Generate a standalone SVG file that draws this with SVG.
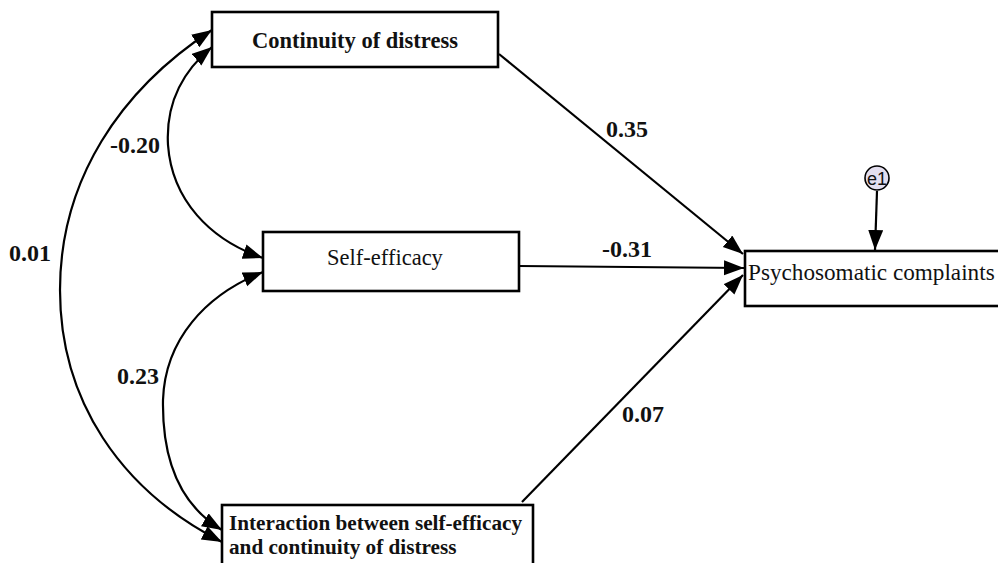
<svg xmlns="http://www.w3.org/2000/svg" width="998" height="563" viewBox="0 0 998 563">
<style>
.box{fill:#fff;stroke:#000;stroke-width:2.6}
.bt{font-family:"Liberation Serif","Times New Roman",serif;font-weight:bold;fill:#111}
.rt{font-family:"Liberation Serif","Times New Roman",serif;fill:#111}
.lbl{font-family:"Liberation Serif","Times New Roman",serif;font-weight:bold;font-size:24px;fill:#111}
.c{fill:none;stroke:#000;stroke-width:2.2}
.a{marker-end:url(#ah)}
.d{marker-start:url(#ah);marker-end:url(#ah)}
</style>
<defs>
<marker id="ah" markerUnits="userSpaceOnUse" markerWidth="22" markerHeight="16" refX="20" refY="7.5" orient="auto-start-reverse">
<path d="M0,0 L20,7.5 L0,15 Z" fill="#000"/>
</marker>
</defs>
<rect width="998" height="563" fill="#fff"/>
<g id="connectors">
<path class="c a" d="M499,54 L743,254"/>
<path class="c a" d="M519,266 L744,268"/>
<path class="c a" d="M522,502 L743,275"/>
<path class="c a" d="M877,191 L875,250"/>
<path class="c d" d="M212,30 C120,90 60,180 60,290 C60,400 120,490 222,542"/>
<path class="c d" d="M212,47 C178,75 166,110 168,145 C172,200 210,240 263,258"/>
<path class="c d" d="M263,272 C205,295 165,340 163,400 C162,460 180,505 222,530"/>
</g>
<g id="labels">
<text class="lbl" x="606" y="137">0.35</text>
<text class="lbl" x="602" y="257">-0.31</text>
<text class="lbl" x="622" y="422">0.07</text>
<text class="lbl" x="110" y="153">-0.20</text>
<text class="lbl" x="9" y="261">0.01</text>
<text class="lbl" x="117" y="384">0.23</text>
</g>
<g id="node-continuity">
<rect class="box" x="212" y="12" width="286" height="55"/>
<text class="bt" x="355" y="48" font-size="22.5" text-anchor="middle">Continuity of distress</text>
</g>
<g id="node-selfefficacy">
<rect class="box" x="263" y="232" width="256" height="59"/>
<text class="rt" x="385" y="265" font-size="22.5" text-anchor="middle">Self-efficacy</text>
</g>
<g id="node-psychosomatic">
<rect class="box" x="745" y="251" width="256" height="55"/>
<text class="rt" x="748" y="280" font-size="23.2">Psychosomatic complaints</text>
</g>
<g id="node-interaction">
<rect class="box" x="222" y="505" width="311" height="66"/>
<text class="bt" x="229" y="530" font-size="21.2">Interaction between self-efficacy</text>
<text class="bt" x="229" y="554" font-size="21.2">and continuity of distress</text>
</g>
<g id="node-e1">
<circle cx="877" cy="178" r="12" fill="#e4dff0" stroke="#000" stroke-width="1.6"/>
<text x="877" y="184.5" font-family="Liberation Sans, Arial, sans-serif" font-size="18" text-anchor="middle" fill="#111">e1</text>
</g>
</svg>
